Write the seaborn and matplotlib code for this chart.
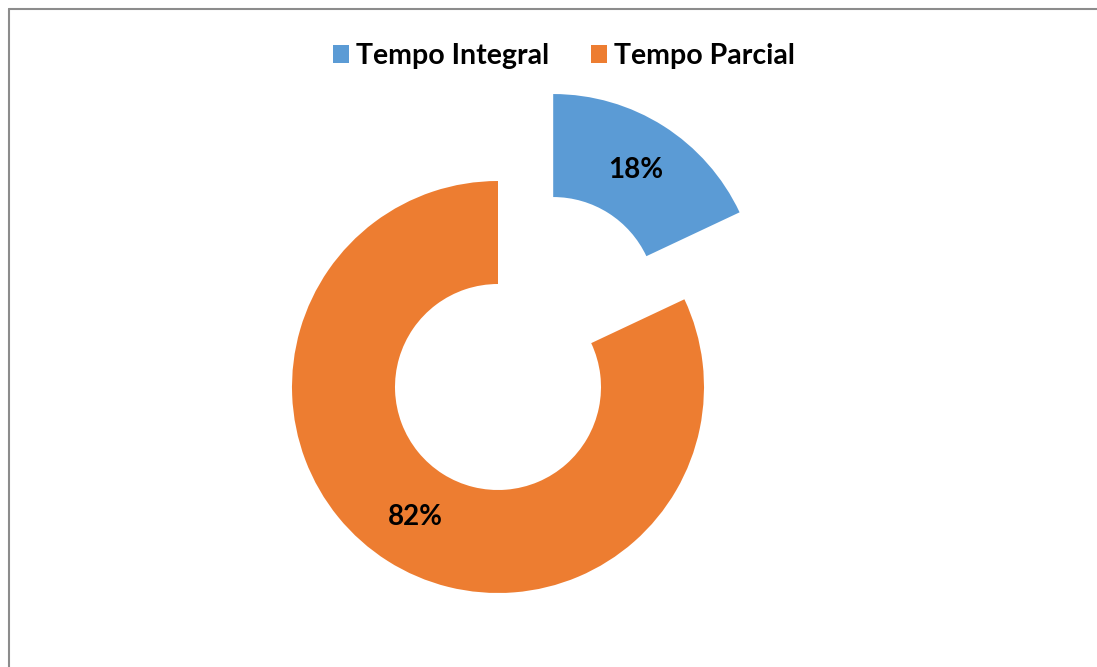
import matplotlib
matplotlib.use("Agg")
import matplotlib.pyplot as plt
import seaborn as sns
from matplotlib.lines import Line2D
from matplotlib.patches import Patch

# chart data
categories = ["Tempo Integral", "Tempo Parcial"]
shares = [18, 82]
explode_amount = [103, 0]

sns.set_theme(style="white")
plt.rcParams['font.family'] = ['Lato', 'DejaVu Sans']
colors = ["#5B9BD5", "#ED7D31"]

fig = plt.figure(figsize=(10.97, 6.67), dpi=100)
ax = fig.add_axes([0, 0, 1, 1])

# pie drawn in pixel-like data units
wedges, texts, autotexts = ax.pie(
    shares, colors=colors, explode=explode_amount, startangle=90,
    counterclock=False, center=(498, 280), radius=206,
    wedgeprops=dict(width=103, edgecolor="none"),
    autopct="%d%%", pctdistance=0.75, frame=True)
for t in autotexts:
    t.set_fontsize(20)
    t.set_fontweight("bold")
    t.set_color("black")

ax.set_xlim(0, 1097)
ax.set_ylim(0, 667)
ax.set_aspect("equal")
ax.set_xticks([])
ax.set_yticks([])
for s in ax.spines.values():
    s.set_visible(False)

# outer frame (left and top)
ax.add_line(Line2D([8.5, 8.5], [0, 658.5], color="#8c8c8c", lw=1.5))
ax.add_line(Line2D([8.5, 1097], [658.5, 658.5], color="#8c8c8c", lw=1.5))

handles = [Patch(facecolor=c, edgecolor="none") for c in colors]
leg = ax.legend(handles, categories, loc="center", bbox_to_anchor=(564 / 1097, 1 - 56 / 667),
                ncol=2, frameon=False, prop=dict(family="Lato", weight="bold", size=20.5),
                handlelength=0.56, handleheight=0.56, handletextpad=0.25, columnspacing=1.47,
                labelcolor="black")

fig.savefig("out.png", dpi=100)
